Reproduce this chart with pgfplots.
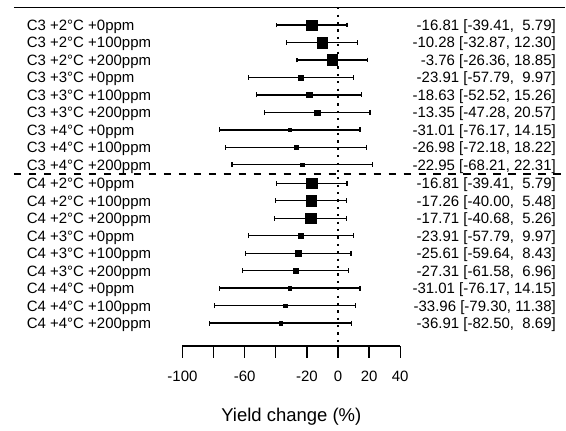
\documentclass[border=0pt]{standalone}
\usepackage{pgfplots}
\usepackage{pgfplotstable}
\pgfplotsset{compat=1.18}
\usepackage{fontspec}
\setmainfont{Liberation Sans}

% y = row position (px from top), est, lo, hi, s = half square side
\pgfplotstableread{
y     est     lo      hi     s
25.0  -16.81  -39.41  5.79   5.3
42.5  -10.28  -32.87  12.30  5.3
60.0  -3.76   -26.36  18.85  5.3
77.5  -23.91  -57.79  9.97   2.7
95.0  -18.63  -52.52  15.26  2.7
112.5 -13.35  -47.28  20.57  2.7
130.0 -31.01  -76.17  14.15  1.8
147.5 -26.98  -72.18  18.22  1.8
165.0 -22.95  -68.21  22.31  1.8
}\cthree
\pgfplotstableread{
y     est     lo      hi     s
183.5 -16.81  -39.41  5.79   5.3
201.0 -17.26  -40.00  5.48   5.3
218.5 -17.71  -40.68  5.26   5.3
236.0 -23.91  -57.79  9.97   2.7
253.5 -25.61  -59.64  8.43   2.7
271.0 -27.31  -61.58  6.96   2.7
288.5 -31.01  -76.17  14.15  1.8
306.0 -33.96  -79.30  11.38  1.8
323.5 -36.91  -82.50  8.69   1.8
}\cfour

\newcommand{\lab}{\fontsize{15}{18}\selectfont}
\newcommand{\rowL}[2]{\node[anchor=base west, inner sep=0pt, font=\lab] at (axis cs:-200.2,#1+5.4) {#2};}
\newcommand{\rowR}[2]{\node[anchor=base east, inner sep=0pt, font=\lab] at (axis cs:140.2,#1+5.4) {#2};}

\pgfplotsset{
  ci/.style={draw=none, mark=none, error bars/.cd, x dir=both, x explicit,
    error mark=|, error mark options={black, mark size=2.4pt, line width=1.2pt},
    error bar style={black, line width=1.35pt}},
  sq/.style={scatter, only marks, mark=square*, point meta=\thisrow{s},
    scatter/use mapped color={draw=black, fill=black},
    visualization depends on={\thisrow{s} \as \ms},
    scatter/@pre marker code/.append style={/tikz/mark size=\ms pt},
    line width=0.3pt}
}

\begin{document}
\begin{tikzpicture}
\begin{axis}[
  at={(0,0)}, anchor=south west,
  scale only axis, width=566pt, height=431pt,
  xmin=-217.33, xmax=146.17, ymin=0, ymax=431, y dir=reverse,
  hide axis, clip=false]
\path (rel axis cs:0,0) rectangle (rel axis cs:1,1);
% frame lines
\addplot[black, line width=1.4pt] coordinates {(-208.33,7.3) (146.17,7.3)};
\addplot[black, line width=1.3pt, dash pattern=on 7.5pt off 7.5pt] coordinates {(-208.33,174.3) (146.17,174.3)};
\addplot[black, line width=1.3pt, dash pattern=on 2.2pt off 5.2pt] coordinates {(0,7.3) (0,343)};
% confidence intervals and point estimates
\addplot[ci] table[x=est, y=y, x error plus expr=\thisrow{hi}-\thisrow{est}, x error minus expr=\thisrow{est}-\thisrow{lo}] {\cthree};
\addplot[ci] table[x=est, y=y, x error plus expr=\thisrow{hi}-\thisrow{est}, x error minus expr=\thisrow{est}-\thisrow{lo}] {\cfour};
\addplot[sq] table[x=est, y=y] {\cthree};
\addplot[sq] table[x=est, y=y] {\cfour};
% labels
\rowL{25.0}{C3 +2°C +0ppm}
\rowL{42.5}{C3 +2°C +100ppm}
\rowL{60.0}{C3 +2°C +200ppm}
\rowL{77.5}{C3 +3°C +0ppm}
\rowL{95.0}{C3 +3°C +100ppm}
\rowL{112.5}{C3 +3°C +200ppm}
\rowL{130.0}{C3 +4°C +0ppm}
\rowL{147.5}{C3 +4°C +100ppm}
\rowL{165.0}{C3 +4°C +200ppm}
\rowL{183.5}{C4 +2°C +0ppm}
\rowL{201.0}{C4 +2°C +100ppm}
\rowL{218.5}{C4 +2°C +200ppm}
\rowL{236.0}{C4 +3°C +0ppm}
\rowL{253.5}{C4 +3°C +100ppm}
\rowL{271.0}{C4 +3°C +200ppm}
\rowL{288.5}{C4 +4°C +0ppm}
\rowL{306.0}{C4 +4°C +100ppm}
\rowL{323.5}{C4 +4°C +200ppm}
\rowR{25.0}{-16.81 [-39.41,\ \ 5.79]}
\rowR{42.5}{-10.28 [-32.87, 12.30]}
\rowR{60.0}{-3.76 [-26.36, 18.85]}
\rowR{77.5}{-23.91 [-57.79,\ \ 9.97]}
\rowR{95.0}{-18.63 [-52.52, 15.26]}
\rowR{112.5}{-13.35 [-47.28, 20.57]}
\rowR{130.0}{-31.01 [-76.17, 14.15]}
\rowR{147.5}{-26.98 [-72.18, 18.22]}
\rowR{165.0}{-22.95 [-68.21, 22.31]}
\rowR{183.5}{-16.81 [-39.41,\ \ 5.79]}
\rowR{201.0}{-17.26 [-40.00,\ \ 5.48]}
\rowR{218.5}{-17.71 [-40.68,\ \ 5.26]}
\rowR{236.0}{-23.91 [-57.79,\ \ 9.97]}
\rowR{253.5}{-25.61 [-59.64,\ \ 8.43]}
\rowR{271.0}{-27.31 [-61.58,\ \ 6.96]}
\rowR{288.5}{-31.01 [-76.17, 14.15]}
\rowR{306.0}{-33.96 [-79.30, 11.38]}
\rowR{323.5}{-36.91 [-82.50,\ \ 8.69]}
% tick labels
\node[anchor=base, inner sep=0pt, font=\lab] at (axis cs:-100,381.7) {-100};
\node[anchor=base, inner sep=0pt, font=\lab] at (axis cs:-60,381.7) {-60};
\node[anchor=base, inner sep=0pt, font=\lab] at (axis cs:-20,381.7) {-20};
\node[anchor=base, inner sep=0pt, font=\lab] at (axis cs:0,381.7) {0};
\node[anchor=base, inner sep=0pt, font=\lab] at (axis cs:20,381.7) {20};
\node[anchor=base, inner sep=0pt, font=\lab] at (axis cs:40,381.7) {40};
\node[anchor=base, inner sep=0pt, font=\fontsize{18.5}{22}\selectfont] at (axis cs:-30,421.7) {Yield change (\%)};
\end{axis}
\begin{axis}[
  at={(182.7pt,84.7pt)}, anchor=south west,
  scale only axis, width=218pt, height=20pt,
  xmin=-100, xmax=40, ymin=0, ymax=1,
  axis x line*=bottom, axis y line=none,
  xtick={-100,-80,-60,-40,-20,0,20,40}, xticklabels={},
  xticklabel style={opacity=0},
  xtick align=outside, major tick length=12pt,
  every tick/.style={black, line width=1.35pt},
  axis line style={black, line width=1.35pt}]
\addplot[draw=none, mark=none] coordinates {(-100,0) (40,1)};
\end{axis}
\end{tikzpicture}
\end{document}
